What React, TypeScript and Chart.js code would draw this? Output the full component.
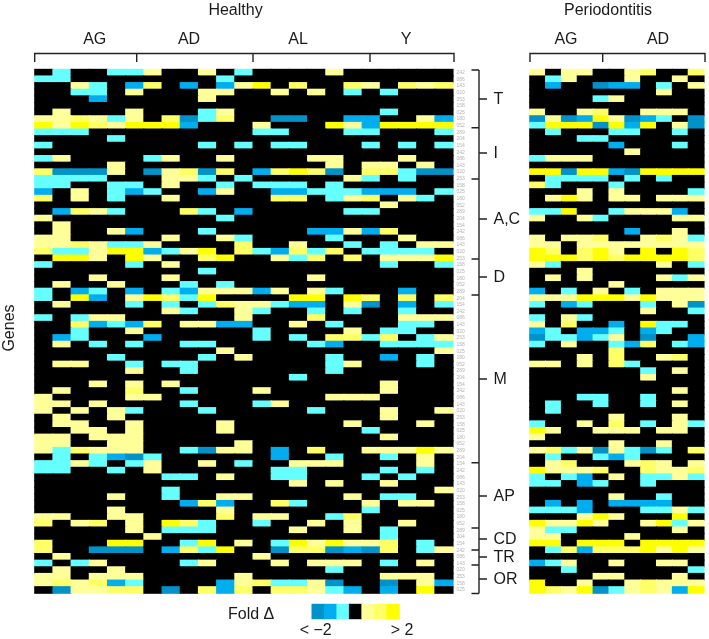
import React, { useEffect, useRef } from "react";
import { Chart, registerables } from "chart.js";

Chart.register(...registerables);

// Cell codes: A B C = strongest to weakest down-regulation, . = no change, p q y = weakest to strongest up-regulation
const healthyRows = [
  ".C..CCp..p.C....p......",
  "CC........C............",
  "..pC.Bq.B.Bpy.q..qp.qpq",
  "..CC.p...pp..p.p.C.C...",
  "...B.....p.............",
  ".......................",
  ".p...p...Cp........C...",
  "ppqpCp.qACq..AA..BB..pB",
  "ypyqpyyyB...p...ypByyyy",
  "CCC.........CC...CC...C",
  "....C..................",
  "C........C.C.CC...C.C.C",
  ".......................",
  "Cp....Cp..p....pp...p..",
  "....p...........p.pp.p.",
  "qAAAp.ApqAq.BqyqA.qqCAA",
  "CCCC...ppC.C.....pC.C..",
  "CC..CC.p..C.CCC.C......",
  "B.p.CBC..Bp..BBCCCBBB.C",
  "q.p.C..p.....qq.Cpq.pC.",
  "...................p...",
  ".BqpC...qC.B.....CC....",
  "p.........C............",
  ".p.....................",
  ".p..pB...C.....BBpBq...",
  "pp.....p..pC....C...p..",
  "ppqpCCp....q..p..C.C.pp",
  "qCCpyyBCpy.qCBqCq.CCCC.",
  ".yyp.yp..qy..pCq.q.pppy",
  "C....C.p...........C..C",
  ".........C.............",
  "...p...p.......p.......",
  ".p..p...C.C............",
  "C.BC.B.CBpppBp.pC...B..",
  "C.yB.pyqCy....yy.yq.q.q",
  ".p...C.C.CqppCBB.pA.B.C",
  ".......pC..pC..C.C..C..",
  "C.Cpp......p...q....ppp",
  "..qBCBq.ppBB..p.C...CC.",
  "..C..p......C....p.CC..",
  ".BC...B.....C.C.qqCq.Cp",
  ".p.C.C..CC.....CB..CCCC",
  "..........p...........p",
  "....C....C.p....C..B.C.",
  ".pp..C.CC.......Cp...C.",
  ".....p..C.......C......",
  "..............C........",
  "...p.p.p...........p...",
  ".p...q..C...p......p...",
  "p....pp.........ppp....",
  "pp.p....C...Cp.........",
  "p.p.pC...C.....C...p..p",
  ".p..p..............p...",
  ".pp..p....p......p...p.",
  "..pp.p....p.......C....",
  "pp.ppp.............p...",
  "pp..pp.....p...........",
  "pCqppp..CApp.B.q..pppyp",
  ".C.CBAC......B..C..C.p.",
  "CCpC.Cp..p.C..ppp....p.",
  "CC..C.p......CC....C.C.",
  ".......CC.p..CC...C.C..",
  "..............p.p..p...",
  ".......C..............p",
  "....p..C..pp.....p.CC..",
  "........BqB..qC...p.pp.",
  "....p.....p.......C....",
  "pp..pp....q.pp..Cq.....",
  "q.pq.p.yqC..C..p.p..p..",
  ".....p.CCC....p..p.C...",
  "......p............C...",
  "q...yy..Cy.p.Cypyppq.C.",
  "q..AAA.BqCy..AqqABAq.Cp",
  ".p..........p..........",
  "C.Cp....Cp...p.ppp.C.p.",
  ".p..p...........C......",
  "pp.ppp.....p.......ppp.",
  "pqpqBC....BpqCCpA..A.pB",
  ".Appqq.A.qBq.qqpCB.B.y.",
];

const periodontitisRows = [
  "p.pp..pq..q",
  ".Cp...p..p.",
  ".B..ABB.C.p",
  "........p..",
  "....Cp.....",
  "...........",
  "p..pq..ppp.",
  "ApABypABC.A",
  "CyyyAyBy.pA",
  ".C...CC..C.",
  "...CC......",
  ".....B...C.",
  "......p....",
  "Cppp.......",
  "...........",
  "yyAyyBAyyyy",
  ".CCCC.C.C..",
  "qC...C.....",
  "...p.p....C",
  ".pyp.pp.ppp",
  "...........",
  "CCy..CpppB.",
  "p..pC....pp",
  "...........",
  "......B..p.",
  "p.ppq..pqpC",
  "pp.pppppppp",
  "yq.qyp.y.yq",
  "yyyqyqyyyyq",
  "pC......p.C",
  "...p.......",
  ".p.p....pCp",
  ".....p.....",
  "B.C.p.C.ppp",
  "pppyyypyppp",
  "C.BC...C.pA",
  ".......p..C",
  "C.pC.......",
  "p.q..B.yCC.",
  "BC.BBC.BC..",
  "ACCBCp.A..B",
  "C.p..CBq.CB",
  ".....q.....",
  "...p.q..pq.",
  "pp.p.qC....",
  ".......C.p.",
  ".......p...",
  "...........",
  ".........p.",
  "...CC..C...",
  ".C..C..C.p.",
  ".C.........",
  ".....p...p.",
  "C..p.q.C.pC",
  "yp..ppp.pp.",
  "p..........",
  ".....p..p..",
  "pqCpApCAC.q",
  ".C..CBC....",
  ".pq...pqp.p",
  "ypppq..qppq",
  "C.CB.p.CCpC",
  "CC.BC..C...",
  "...........",
  ".....p..C..",
  ".B.B.BBBB..",
  "CCCB...CCpC",
  "...pyp...y.",
  "yppyp..pyCp",
  "pCC......p.",
  "pp....p....",
  "yy.yyy.yyyy",
  ".CqBqqqypyp",
  "...........",
  "BCp..p..pp.",
  "..C.......C",
  "....pp...p.",
  "y..p..pqppp",
  "yqpyACpqpBy",
];

const legendCodes = ["A", "B", "C", ".", "p", "q", "y"];
const geneLabels = ["242", "086", "143", "020", "253", "158", "025", "180", "052", "289", "204", "154"];

const healthyGroups = ["AG", "AD", "AL", "Y"];
const periodontitisGroups = ["AG", "AD"];
const geneClasses = ["T", "I", "A,C", "D", "M", "AP", "CD", "TR", "OR"];

const colours: Record<string, string> = {
  A: "#0092c8",
  B: "#00aeef",
  C: "#66ffff",
  ".": "#000000",
  p: "#ffff99",
  q: "#ffff66",
  y: "#ffff00",
};

const W = 709;
const H = 639;
const TOP = 69.3;
const ROW = 6.633;
const FONT = "Liberation Sans, Arial, sans-serif";

function cells(rows: string[]) {
  const points: { x: number; y: [number, number] }[] = [];
  const fill: string[] = [];
  rows.forEach((row, r) => {
    row.split("").forEach((code, c) => {
      points.push({ x: c + 0.5, y: [r, r + 1] });
      fill.push(colours[code]);
    });
  });
  return { points, fill };
}

function xAxis(left: number, cell: number) {
  return {
    type: "linear" as const,
    display: false,
    offset: false,
    min: -left / cell,
    max: (W - left) / cell,
  };
}

const annotate = {
  id: "annotate",
  afterDatasetsDraw(chart: Chart) {
    const ctx = chart.ctx;
    ctx.save();
    ctx.fillStyle = "#1a1a1a";
    ctx.strokeStyle = "#222222";
    ctx.lineWidth = 1.4;
    ctx.textBaseline = "alphabetic";
    ctx.font = `16px ${FONT}`;
    ctx.textAlign = "center";

    const text = (s: string, x: number, y: number) => ctx.fillText(s, x, y);
    text("Healthy", 235.5, 15);
    text("Periodontitis", 608, 15);
    const hx = [94.7, 189, 298, 406];
    healthyGroups.forEach((g, i) => text(g, hx[i], 43.5));
    const px = [566, 658];
    periodontitisGroups.forEach((g, i) => text(g, px[i], 43.5));

    const bracket = (xs: number[]) => {
      ctx.beginPath();
      ctx.moveTo(xs[0], 62);
      ctx.lineTo(xs[0], 53.5);
      ctx.lineTo(xs[xs.length - 1], 53.5);
      ctx.lineTo(xs[xs.length - 1], 62);
      xs.slice(1, -1).forEach((x) => {
        ctx.moveTo(x, 53.5);
        ctx.lineTo(x, 62);
      });
      ctx.stroke();
    };
    bracket([34.7, 136.7, 253, 370, 454]);
    bracket([530, 602.7, 705]);

    // class brackets on the right
    const edges = [70, 127.7, 179, 259, 295, 462.7, 528, 550, 565, 593.5];
    const mids = [99, 153, 219, 277, 379, 496, 539, 557, 579];
    const lineX = 479;
    ctx.beginPath();
    ctx.moveTo(lineX, edges[0]);
    ctx.lineTo(lineX, edges[edges.length - 1]);
    edges.forEach((y) => {
      ctx.moveTo(471.5, y);
      ctx.lineTo(lineX, y);
    });
    mids.forEach((y) => {
      ctx.moveTo(lineX, y);
      ctx.lineTo(487, y);
    });
    ctx.stroke();
    ctx.textAlign = "left";
    ctx.textBaseline = "middle";
    geneClasses.forEach((g, i) => ctx.fillText(g, 493.5, mids[i] + 1));

    // tiny gene labels
    ctx.font = `5px ${FONT}`;
    ctx.fillStyle = "#b4b4b4";
    const yScale = chart.scales.y;
    healthyRows.forEach((_, r) => {
      ctx.fillText(geneLabels[r % geneLabels.length], 456.5, yScale.getPixelForValue(r + 0.5));
    });

    // side and legend text
    ctx.fillStyle = "#1a1a1a";
    ctx.font = `16px ${FONT}`;
    ctx.textBaseline = "alphabetic";
    ctx.textAlign = "left";
    ctx.fillText("Fold Δ", 228, 619);
    ctx.textAlign = "center";
    ctx.fillText("< −2", 315.7, 635);
    ctx.fillText("> 2", 402, 635);
    ctx.translate(14, 328);
    ctx.rotate(-Math.PI / 2);
    ctx.fillText("Genes", 0, 0);
    ctx.restore();
  },
};

export default function App() {
  const ref = useRef<HTMLCanvasElement>(null);
  useEffect(() => {
    const h = cells(healthyRows);
    const p = cells(periodontitisRows);
    const legendRow = legendCodes.join("");
    const l = cells([legendRow]);
    const barStyle = { grouped: false, barPercentage: 1, categoryPercentage: 1, inflateAmount: 0.5, borderWidth: 0 };
    const chart = new Chart(ref.current!, {
      type: "bar",
      data: {
        datasets: [
          { label: "Healthy", data: h.points as any, backgroundColor: h.fill, xAxisID: "x", yAxisID: "y", ...barStyle },
          { label: "Periodontitis", data: p.points as any, backgroundColor: p.fill, xAxisID: "xP", yAxisID: "y", ...barStyle },
          { label: "Fold change key", data: l.points as any, backgroundColor: l.fill, xAxisID: "xL", yAxisID: "yL", ...barStyle },
        ] as any,
      },
      options: {
        responsive: false,
        animation: false,
        events: [],
        layout: { padding: 0 },
        plugins: { legend: { display: false }, tooltip: { enabled: false } },
        scales: {
          x: xAxis(34.7, 18.19),
          xP: xAxis(529.7, 15.85),
          xL: xAxis(312, 12.47),
          y: { type: "linear", display: false, reverse: true, min: -TOP / ROW, max: (H - TOP) / ROW },
          yL: { type: "linear", display: false, reverse: true, min: -604.3 / 14.4, max: (H - 604.3) / 14.4 },
        },
      } as any,
      plugins: [annotate],
    });
    return () => chart.destroy();
  }, []);
  return (
    <div style={{ position: "absolute", left: 0, top: 0, width: W, height: H, background: "#fff" }}>
      <canvas ref={ref} width={W} height={H} style={{ display: "block" }} />
    </div>
  );
}
